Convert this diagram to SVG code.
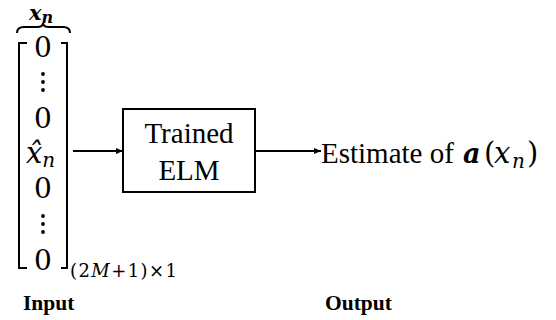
<svg xmlns="http://www.w3.org/2000/svg" width="556" height="320" viewBox="0 0 556 320">
<defs>
<style>
.t{font-family:"Liberation Serif","Times New Roman",serif;fill:#000}
.m{font-family:"DejaVu Serif","Liberation Serif",serif;fill:#000}
.ln{stroke:#000;stroke-width:2;fill:none}
</style>
<marker id="ah" markerWidth="8" markerHeight="8" refX="7" refY="4" orient="auto" markerUnits="userSpaceOnUse">
<path d="M0,1 L7,4 L0,7 Z" fill="#000"/>
</marker>
</defs>
<rect width="556" height="320" fill="#fff"/>
<g id="input">
<text class="m" x="29" y="20" font-size="21" font-weight="bold" font-style="italic">x<tspan font-size="16" dy="3">n</tspan></text>
<path class="ln" stroke-width="1.6" d="M17,33 Q17,27 24,27 L37,27 Q43,27 43,23 Q43,27 49,27 L63,27 Q70,27 70,33"/>
<path class="ln" d="M27,43 L19,43 L19,268 L27,268"/>
<path class="ln" d="M61,43 L67,43 L67,268 L61,268"/>
<g class="m" font-size="28" text-anchor="middle">
<text x="43" y="57">0</text>
<text x="43" y="128">0</text>
<text x="43" y="198">0</text>
<text x="43" y="270">0</text>
</g>
<g fill="#000">
<circle cx="43" cy="74" r="1.9"/><circle cx="43" cy="82" r="1.9"/><circle cx="43" cy="90" r="1.9"/>
<circle cx="43" cy="216" r="1.9"/><circle cx="43" cy="224" r="1.9"/><circle cx="43" cy="232" r="1.9"/>
</g>
<text class="m" x="26" y="163" font-size="29" font-style="italic">x̂<tspan font-size="20" dy="4">n</tspan></text>
<text class="m" x="70" y="277" font-size="18" textLength="107" lengthAdjust="spacing">(2<tspan font-style="italic">M</tspan>+1)×1</text>
</g>
<g id="elm">
<rect x="123" y="109" width="132" height="83" fill="#fff" stroke="#000" stroke-width="2"/>
<text class="t" x="189" y="143" font-size="29" text-anchor="middle">Trained</text>
<text class="t" x="189" y="180" font-size="29" text-anchor="middle">ELM</text>
</g>
<g id="output">
<text class="t" x="321" y="163" font-size="29">Estimate of</text>
<text class="m" x="463" y="163" font-size="27" font-weight="bold" font-style="italic">a</text>
<text class="m" x="484" y="163" font-size="29">(</text>
<text class="m" x="494" y="163" font-size="29" font-style="italic">x</text>
<text class="m" x="512" y="168" font-size="20" font-style="italic">n</text>
<text class="m" x="527" y="163" font-size="29">)</text>
</g>
<g id="labels">
<text class="t" x="23" y="310" font-size="21.5" font-weight="bold">Input</text>
<text class="t" x="325" y="310" font-size="21.5" font-weight="bold">Output</text>
</g>
<g id="connectors">
<line class="ln" x1="73" y1="151" x2="123" y2="151" marker-end="url(#ah)"/>
<line class="ln" x1="255" y1="151" x2="321" y2="151" marker-end="url(#ah)"/>
</g>
</svg>
